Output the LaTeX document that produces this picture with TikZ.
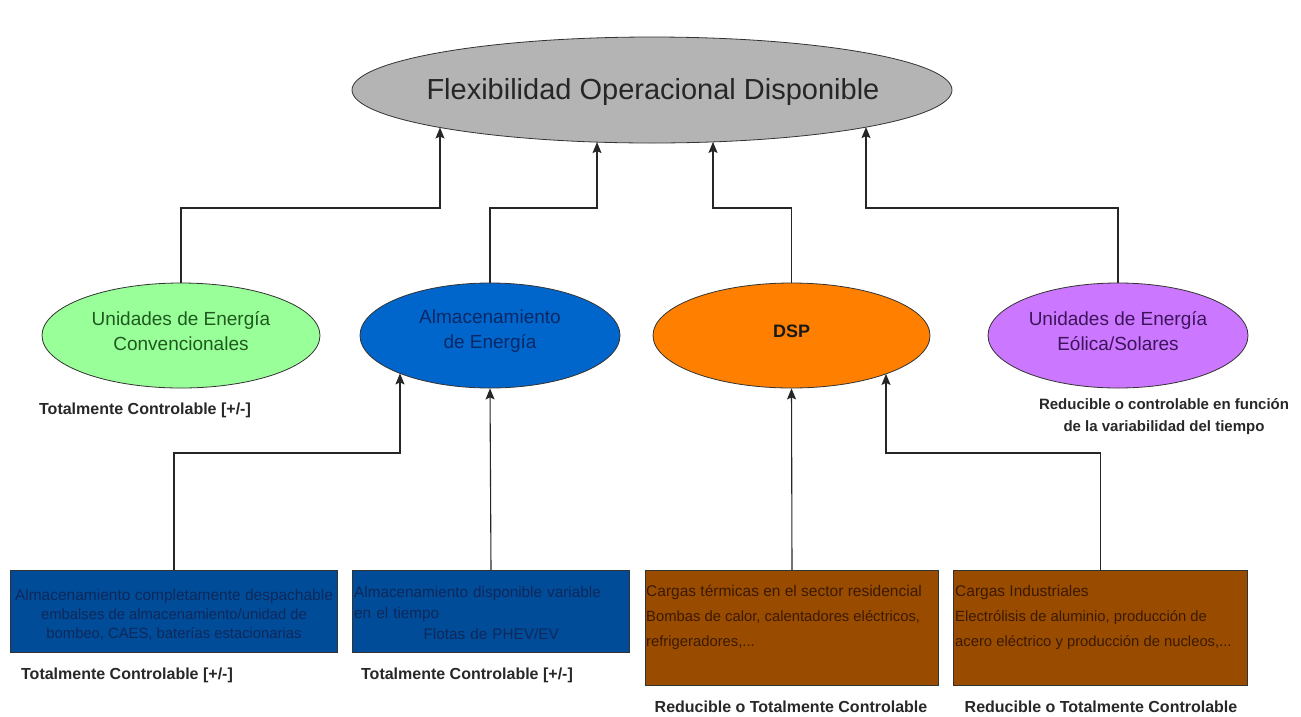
\documentclass[tikz,border=0pt]{standalone}
\usepackage{fontspec}
\setmainfont{Liberation Sans}
\usetikzlibrary{shapes.geometric,arrows.meta,calc}

\definecolor{topgray}{RGB}{180,180,180}
\definecolor{convgreen}{RGB}{153,255,153}
\definecolor{convtext}{RGB}{30,90,30}
\definecolor{storblue}{RGB}{0,102,204}
\definecolor{stortext}{RGB}{10,40,100}
\definecolor{dsporange}{RGB}{255,128,0}
\definecolor{windviolet}{RGB}{204,119,255}
\definecolor{windtext}{RGB}{60,20,90}
\definecolor{boxblue}{RGB}{0,76,153}
\definecolor{boxbluetext}{RGB}{15,40,90}
\definecolor{boxbrown}{RGB}{153,76,0}
\definecolor{boxbrowntext}{RGB}{60,25,0}
\definecolor{labelgray}{RGB}{40,40,40}

\newcommand{\headsize}{\fontsize{15.5}{19}\selectfont}

\begin{document}
\begin{tikzpicture}[x=1pt,y=-1pt,
  oval/.style={ellipse, draw=black!80, line width=0.8pt, inner sep=0pt, align=center,
    minimum height=105pt},
  ovaltext/.style={font=\fontsize{19}{25}\selectfont, align=center, inner sep=0pt},
  leaf/.style={rectangle, draw=black!80, line width=1pt, inner sep=0pt, anchor=north west,
    minimum height=82pt},
  load/.style={leaf, fill=boxbrown, minimum height=115pt},
  arr/.style={-{Stealth[length=11pt,width=9pt,inset=2pt]}, line width=1.1pt, draw=black!85},
  note/.style={font=\fontsize{16}{22}\selectfont\bfseries, text=labelgray, align=center},
  boxtext/.style={font=\fontsize{14.8}{25}\selectfont, inner sep=0pt, anchor=north west, align=left}]

\useasboundingbox[fill=white] (0,0) rectangle (1301,716);

% top goal
\node[oval, fill=topgray, minimum width=600pt, minimum height=106pt] (top) at (652,90) {};
\node[font=\fontsize{29}{33}\selectfont, text=black!85, inner sep=0pt] (topt) at (653,92)
  {Flexibilidad Operacional Disponible};

% second level
\node[oval, fill=convgreen, minimum width=278pt] (conv) at (181,335.5) {};
\node[ovaltext, text=convtext] (convt) at (181,331) {Unidades de Energía\\Convencionales};
\node[oval, fill=storblue, minimum width=260pt] (stor) at (490,335.5) {};
\node[ovaltext, text=stortext] (stort) at (490,331) {Almacenamiento\\de Energía};
\node[oval, fill=dsporange, minimum width=277pt] (dsp) at (791.5,335.5) {};
\node[ovaltext, font=\fontsize{18}{24}\selectfont\bfseries, text=black!90] (dspt) at (791.5,331) {DSP};
\node[oval, fill=windviolet, minimum width=260pt] (wind) at (1118,335.5) {};
\node[ovaltext, text=windtext] (windt) at (1118,331) {Unidades de Energía\\Eólica/Solares};

% bottom level
\node[leaf, fill=boxblue, minimum width=327pt] (b1) at (10,570) {};
\node[text=boxbluetext, align=center, inner sep=0pt, font=\fontsize{14.8}{19}\selectfont]
  (b1t) at ($(b1.center)+(0,3)$)
  {{\headsize Almacenamiento completamente despachable}\\embalses de almacenamiento/unidad de\\bombeo, CAES, baterías estacionarias};
\node[leaf, fill=boxblue, minimum width=277pt] (b2) at (352,570) {};
\node[boxtext, text=boxbluetext, text width=274pt, font=\fontsize{15.3}{21}\selectfont]
  (b2t) at ($(b2.north west)+(2,16)$)
  {Almacenamiento disponible variable\\en el tiempo\\\makebox[274pt]{Flotas de PHEV/EV}};
\node[load, minimum width=293pt] (b3) at (645,570) {};
\node[boxtext, text=boxbrowntext] (b3t) at ($(b3.north west)+(1,15)$)
  {{\headsize Cargas térmicas en el sector residencial}\\Bombas de calor, calentadores eléctricos,\\refrigeradores,...};
\node[load, minimum width=294pt] (b4) at (953,570) {};
\node[boxtext, text=boxbrowntext] (b4t) at ($(b4.north west)+(2,15)$)
  {{\headsize Cargas Industriales}\\Electrólisis de aluminio, producción de\\acero eléctrico y producción de nucleos,...};

% annotations
\node[note] (n1) at (145,410) {Totalmente Controlable [+/-]};
\node[note, font=\fontsize{15}{22}\selectfont\bfseries] (n2) at (1164,417)
  {Reducible o controlable en función\\de la variabilidad del tiempo};
\node[note] (n3) at (127,675) {Totalmente Controlable [+/-]};
\node[note] (n4) at (467,675) {Totalmente Controlable [+/-]};
\node[note] (n5) at (791,707) {Reducible o Totalmente Controlable};
\node[note] (n6) at (1101,707) {Reducible o Totalmente Controlable};

% routing levels
\coordinate (upper) at (0,208);
\coordinate (lower) at (0,453);

% entry points on the ellipse borders
\coordinate (topA) at ($(top.center)+(-212,37.5)$);
\coordinate (topB) at ($(top.center)+(-55,52.1)$);
\coordinate (topC) at ($(top.center)+(61,51.9)$);
\coordinate (topD) at ($(top.center)+(214,37.1)$);
\coordinate (storA) at ($(stor.center)+(-90,37.9)$);
\coordinate (dspA) at ($(dsp.center)+(94.5,38.4)$);

% connectors to the goal
\draw[arr] (conv.north) -- (conv.north |- upper) -| (topA);
\draw[arr] (stor.north) -- (stor.north |- upper) -| (topB);
\draw[arr] (dsp.north) -- (dsp.north |- upper) -| (topC);
\draw[arr] (wind.north) -- (wind.north |- upper) -| (topD);

% connectors from the resources
\draw[arr] (b1.north) -- (b1.north |- lower) -| (storA);
\draw[arr] (b2.north) -- (stor.south);
\draw[arr] (b3.north) -- (dsp.south);
\draw[arr] (b4.north) -- (b4.north |- lower) -| (dspA);
\end{tikzpicture}
\end{document}
